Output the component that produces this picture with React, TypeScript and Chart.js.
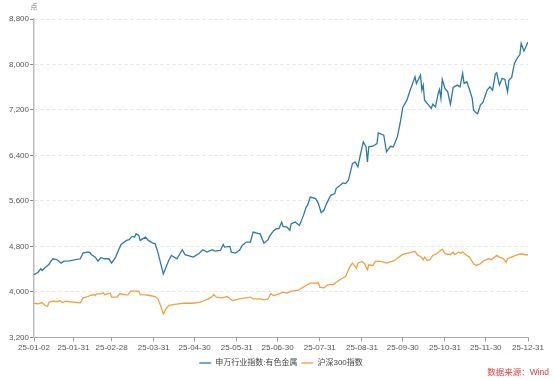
import React, { useEffect, useRef } from "react";
import { Chart, registerables } from "chart.js";

Chart.register(...registerables);

const YEAR = 2025;
const seriesNames = ["申万行业指数:有色金属", "沪深300指数"];
const unitLabel = "点";
const sourceText = "数据来源：Wind";

const xTickLabels = [
  "25-01-02", "25-01-31", "25-02-28", "25-03-31", "25-04-30", "25-05-31",
  "25-06-30", "25-07-31", "25-08-31", "25-09-30", "25-10-31", "25-11-30", "25-12-31",
];

const yMin = 3200;
const yMax = 8800;
const yStep = 800;

const metalDates = [
  "01-02", "01-05", "01-07", "01-08", "01-10", "01-13", "01-14", "01-16", "01-19", "01-22", "01-24", "01-28",
  "02-05", "02-07", "02-10", "02-12", "02-13", "02-16", "02-18", "02-20", "02-23", "02-26", "02-28",
  "03-03", "03-05", "03-07", "03-11", "03-13", "03-15", "03-17", "03-18", "03-20", "03-21", "03-25", "03-27", "03-30",
  "04-01", "04-03", "04-07", "04-09", "04-11", "04-13", "04-17", "04-21", "04-23", "04-29",
  "05-03", "05-06", "05-09", "05-13", "05-15", "05-19", "05-21", "05-22", "05-26", "05-27", "05-30",
  "06-02", "06-04", "06-07", "06-10", "06-12", "06-16", "06-17", "06-20", "06-23", "06-24", "06-27", "06-29",
  "07-01", "07-03", "07-04", "07-07", "07-09", "07-10", "07-13", "07-16", "07-19", "07-21", "07-22", "07-24", "07-28", "07-30",
  "08-01", "08-03", "08-05", "08-08", "08-11", "08-12", "08-15", "08-17", "08-19", "08-21", "08-24", "08-26", "08-28", "08-30",
  "09-01", "09-03", "09-04", "09-05", "09-08", "09-11", "09-12", "09-16", "09-18", "09-21", "09-23", "09-26", "09-28", "09-30",
  "10-03", "10-05", "10-09", "10-10", "10-13", "10-14", "10-15", "10-16", "10-19", "10-21", "10-22", "10-24", "10-26", "10-27", "10-28", "10-29", "10-31",
  "11-02", "11-04", "11-06", "11-09", "11-11", "11-13", "11-14", "11-16", "11-18", "11-20", "11-21", "11-23", "11-24", "11-26", "11-28",
  "12-01", "12-03", "12-05", "12-07", "12-08", "12-10", "12-12", "12-14", "12-16", "12-17", "12-19", "12-21", "12-23", "12-25", "12-26", "12-28", "12-31",
];
const metalValues = [
  4302, 4347, 4407, 4377, 4425, 4483, 4524, 4583, 4566, 4506, 4541, 4545,
  4583, 4682, 4700, 4695, 4659, 4612, 4541, 4601, 4583, 4583, 4506,
  4612, 4730, 4835, 4906, 4918, 4976, 4964, 5024, 4994, 4906, 4964, 4906, 4862,
  4848, 4700, 4316, 4435, 4554, 4642, 4583, 4742, 4654, 4612,
  4672, 4742, 4700, 4742, 4717, 4730, 4835, 4788, 4800, 4700, 4682,
  4730, 4818, 4876, 4876, 5052, 5024, 5024, 4858, 4918, 4976, 5073, 5112,
  5112, 5228, 5153, 5140, 5082, 5200, 5228, 5170, 5346, 5493, 5523, 5669, 5641, 5553,
  5394, 5435, 5553, 5699, 5729, 5817, 5875, 5916, 5905, 5963, 6257, 6286, 6198, 6434,
  6638, 6550, 6286, 6550, 6562, 6610, 6797, 6756, 6462, 6562, 6550, 6726, 6962, 7244,
  7373, 7519, 7783, 7667, 7813, 7549, 7637, 7373, 7285, 7227, 7302, 7255, 7491, 7561, 7403, 7738, 7579,
  7519, 7302, 7597, 7637, 7607, 7843, 7667, 7695, 7561, 7403, 7197, 7149, 7138, 7285, 7343,
  7549, 7607, 7549, 7831, 7854, 7637, 7755, 7738, 7519, 7725, 7773, 8019, 8108, 8170, 8372, 8236, 8395,
];

const csiDates = [
  "01-02", "01-05", "01-08", "01-10", "01-12", "01-13", "01-16", "01-19", "01-21", "01-23", "01-25",
  "02-05", "02-07", "02-09", "02-11", "02-12", "02-15", "02-16", "02-17", "02-20", "02-22", "02-23", "02-25", "02-27", "02-28",
  "03-04", "03-06", "03-10", "03-12", "03-14", "03-17", "03-20", "03-21", "03-25", "03-28",
  "04-01", "04-03", "04-05", "04-07", "04-09", "04-11", "04-14", "04-22", "04-29",
  "05-04", "05-06", "05-10", "05-13", "05-14", "05-16", "05-20", "05-24", "05-26", "05-28",
  "06-02", "06-07", "06-10", "06-12", "06-17", "06-20", "06-23", "06-25", "06-27",
  "07-01", "07-04", "07-07", "07-10", "07-15", "07-18", "07-21", "07-24", "07-28", "07-30", "07-31",
  "08-03", "08-06", "08-10", "08-12", "08-16", "08-19", "08-20", "08-22", "08-24", "08-27", "08-28", "08-31",
  "09-02", "09-03", "09-04", "09-05", "09-08", "09-10", "09-13", "09-16", "09-18", "09-22", "09-24", "09-27", "09-30",
  "10-05", "10-09", "10-11", "10-13", "10-15", "10-16", "10-18", "10-20", "10-22", "10-25", "10-27", "10-29", "10-31",
  "11-04", "11-06", "11-07", "11-10", "11-12", "11-13", "11-16", "11-18", "11-21", "11-23", "11-26", "11-28",
  "12-02", "12-04", "12-08", "12-10", "12-13", "12-15", "12-16", "12-20", "12-24", "12-26", "12-29", "12-31",
];
const csiValues = [
  3801, 3790, 3813, 3760, 3743, 3819, 3836, 3831, 3848, 3808, 3836,
  3808, 3896, 3907, 3919, 3937, 3954, 3937, 3967, 3967, 3984, 3949, 3967, 3978, 3907,
  3907, 3967, 3954, 3949, 4013, 4013, 4013, 3954, 3949, 3937,
  3919, 3879, 3760, 3614, 3702, 3760, 3778, 3801, 3801,
  3819, 3836, 3879, 3919, 3954, 3907, 3896, 3919, 3879, 3848,
  3879, 3896, 3907, 3879, 3879, 3861, 3879, 3967, 3937,
  3967, 3996, 3978, 4013, 4025, 4072, 4113, 4154, 4154, 4160, 4083,
  4072, 4125, 4130, 4171, 4231, 4272, 4330, 4435, 4506, 4418, 4506, 4536,
  4495, 4435, 4390, 4478, 4466, 4541, 4536, 4524, 4506, 4536, 4554, 4612, 4659,
  4689, 4712, 4642, 4624, 4566, 4612, 4554, 4566, 4642, 4671, 4717, 4753, 4671,
  4654, 4700, 4659, 4700, 4682, 4706, 4642, 4612, 4495, 4466, 4495, 4541,
  4583, 4566, 4642, 4612, 4583, 4524, 4583, 4624, 4659, 4671, 4654, 4654,
];

const DAY = 86400000;
const origin = Date.UTC(YEAR, 0, 2);
const dayOf = (md: string) => {
  const [m, d] = md.split("-").map(Number);
  return (Date.UTC(YEAR, m - 1, d) - origin) / DAY;
};
const tickDays = xTickLabels.map((l) => dayOf(l.slice(3)));

const FONT = "Arial, 'Liberation Sans', 'Noto Sans CJK SC', sans-serif";

export default function App() {
  const ref = useRef<HTMLCanvasElement | null>(null);
  useEffect(() => {
    document.body.style.margin = "0";
    const canvas = ref.current!;
    const unitPlugin = {
      id: "unitLabel",
      afterLayout(chart: any) {
        const lg = chart.legend;
        const ca = chart.chartArea;
        if (lg && ca) {
          const shift = (ca.left + ca.right) / 2 - (lg.left + lg.right) / 2;
          lg.left += shift;
          lg.right += shift;
        }
      },
      afterDraw(chart: any) {
        const { ctx, chartArea } = chart;
        ctx.save();
        ctx.fillStyle = "#777";
        ctx.font = `7px ${FONT}`;
        ctx.textAlign = "center";
        ctx.textBaseline = "middle";
        ctx.fillText(unitLabel, chartArea.left, chartArea.top - 12);
        ctx.restore();
      },
    };
    const chart = new Chart(canvas, {
      type: "line",
      data: {
        datasets: [
          {
            label: seriesNames[0],
            data: metalDates.map((d, i) => ({ x: dayOf(d), y: metalValues[i] })),
            borderColor: "#2c7aa6",
            backgroundColor: "#2c7aa6",
            borderWidth: 1.3,
            pointRadius: 0,
            tension: 0,
          },
          {
            label: seriesNames[1],
            data: csiDates.map((d, i) => ({ x: dayOf(d), y: csiValues[i] })),
            borderColor: "#f0a040",
            backgroundColor: "#f0a040",
            borderWidth: 1.3,
            pointRadius: 0,
            tension: 0,
          },
        ],
      },
      options: {
        animation: false,
        responsive: false,
        maintainAspectRatio: false,
        layout: { padding: { top: 19, right: 26, bottom: 3, left: 0 } },
        plugins: {
          legend: {
            position: "bottom",
            labels: {
              usePointStyle: true,
              pointStyle: "line",
              pointStyleWidth: 12,
              boxHeight: 8,
              padding: 4,
              color: "#444",
              font: { size: 8, family: FONT },
            },
          },
          tooltip: { enabled: false },
        },
        scales: {
          x: {
            type: "linear",
            min: 0,
            max: tickDays[tickDays.length - 1],
            afterBuildTicks: (scale: any) => {
              scale.ticks = tickDays.map((v) => ({ value: v }));
            },
            ticks: {
              autoSkip: false,
              maxRotation: 0,
              padding: 2,
              color: "#555",
              font: { size: 8, family: FONT },
              callback: (v: any) => {
                const i = tickDays.indexOf(Number(v));
                return i >= 0 ? xTickLabels[i] : "";
              },
            },
            grid: {
              drawOnChartArea: false,
              drawTicks: true,
              tickLength: 4,
              tickColor: "#999",
            },
            border: { display: true, color: "#aaa", width: 1 },
          },
          y: {
            min: yMin,
            max: yMax,
            afterFit: (scale: any) => {
              scale.width = 34;
            },
            ticks: {
              stepSize: yStep,
              padding: 1,
              color: "#555",
              font: { size: 8, family: FONT },
              callback: (v: any) => Number(v).toLocaleString("en-US"),
            },
            grid: {
              color: "#e6e6e6",
              lineWidth: 1,
              drawTicks: true,
              tickLength: 4,
              tickColor: "#888",
              tickBorderDash: [],
            },
            border: { display: true, color: "#bbb", width: 1.5, dash: [3, 3] },
          },
        },
      },
      plugins: [unitPlugin],
    });
    return () => chart.destroy();
  }, []);
  return (
    <div style={{ position: "relative", width: 554, height: 380, background: "#fff" }}>
      <canvas ref={ref} width={554} height={380} style={{ display: "block" }} />
      <div
        style={{
          position: "absolute",
          right: 5,
          bottom: 2,
          color: "#e23b3b",
          fontSize: 8.5,
          fontFamily: FONT,
          lineHeight: "12px",
        }}
      >
        {sourceText}
      </div>
    </div>
  );
}
